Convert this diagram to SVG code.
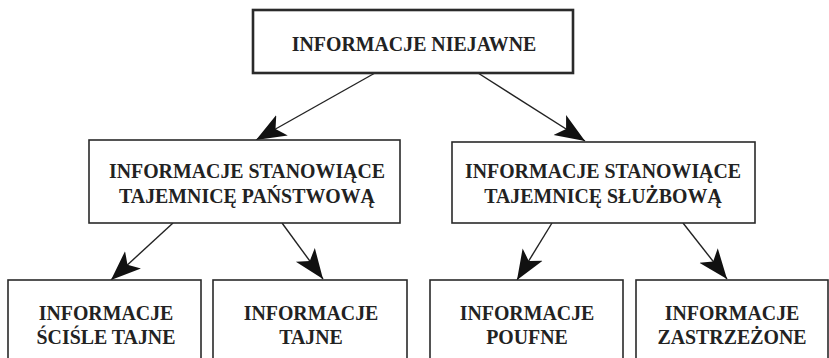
<svg xmlns="http://www.w3.org/2000/svg" width="829" height="358" viewBox="0 0 829 358">
<style>
.box{fill:#fff;stroke:#2a2a2a;stroke-width:1.6}
.top{stroke-width:2.6}
.t{font-family:"Liberation Serif","Times New Roman",serif;font-weight:bold;font-size:21.6px;fill:#222;text-anchor:middle}
.c{stroke:#222;stroke-width:1.4;fill:none;marker-end:url(#ah)}
</style>
<defs>
<marker id="ah" markerUnits="userSpaceOnUse" markerWidth="32" markerHeight="26" viewBox="0 -12 30 24" refX="28" refY="0" orient="auto">
<path d="M0,-11 L28,0 L0,11 L7,0 z" fill="#111"/>
</marker>
</defs>
<rect width="829" height="358" fill="#fff"/>
<g id="connectors">
<line class="c" x1="375" y1="73" x2="256" y2="140"/>
<line class="c" x1="478" y1="73" x2="585" y2="141"/>
<line class="c" x1="173" y1="223" x2="111" y2="280"/>
<line class="c" x1="282" y1="223" x2="323" y2="279"/>
<line class="c" x1="552" y1="223" x2="517" y2="280"/>
<line class="c" x1="683" y1="223" x2="727" y2="279"/>
</g>
<g id="n-niejawne">
<rect class="box top" x="253" y="10" width="320" height="63"/>
<text class="t" transform="translate(414,51) scale(0.92,1)">INFORMACJE NIEJAWNE</text>
</g>
<g id="n-panstwowa">
<rect class="box" x="89" y="140" width="311" height="83"/>
<text class="t" transform="translate(247,178) scale(0.92,1)">INFORMACJE STANOWIĄCE</text>
<text class="t" transform="translate(247,203) scale(0.92,1)">TAJEMNICĘ PAŃSTWOWĄ</text>
</g>
<g id="n-sluzbowa">
<rect class="box" x="452" y="142" width="303" height="81"/>
<text class="t" transform="translate(603,178) scale(0.92,1)">INFORMACJE STANOWIĄCE</text>
<text class="t" transform="translate(603,203) scale(0.92,1)">TAJEMNICĘ SŁUŻBOWĄ</text>
</g>
<g id="n-scisle">
<rect class="box" x="8" y="280" width="193" height="90"/>
<text class="t" transform="translate(106,320) scale(0.92,1)">INFORMACJE</text>
<text class="t" transform="translate(106,344) scale(0.92,1)">ŚCIŚLE TAJNE</text>
</g>
<g id="n-tajne">
<rect class="box" x="213" y="280" width="194" height="90"/>
<text class="t" transform="translate(311,320) scale(0.92,1)">INFORMACJE</text>
<text class="t" transform="translate(311,344) scale(0.92,1)">TAJNE</text>
</g>
<g id="n-poufne">
<rect class="box" x="430" y="280" width="193" height="90"/>
<text class="t" transform="translate(527,320) scale(0.92,1)">INFORMACJE</text>
<text class="t" transform="translate(527,344) scale(0.92,1)">POUFNE</text>
</g>
<g id="n-zastrzezone">
<rect class="box" x="636" y="280" width="192" height="90"/>
<text class="t" transform="translate(732,320) scale(0.92,1)">INFORMACJE</text>
<text class="t" transform="translate(732,344) scale(0.92,1)">ZASTRZEŻONE</text>
</g>
</svg>
